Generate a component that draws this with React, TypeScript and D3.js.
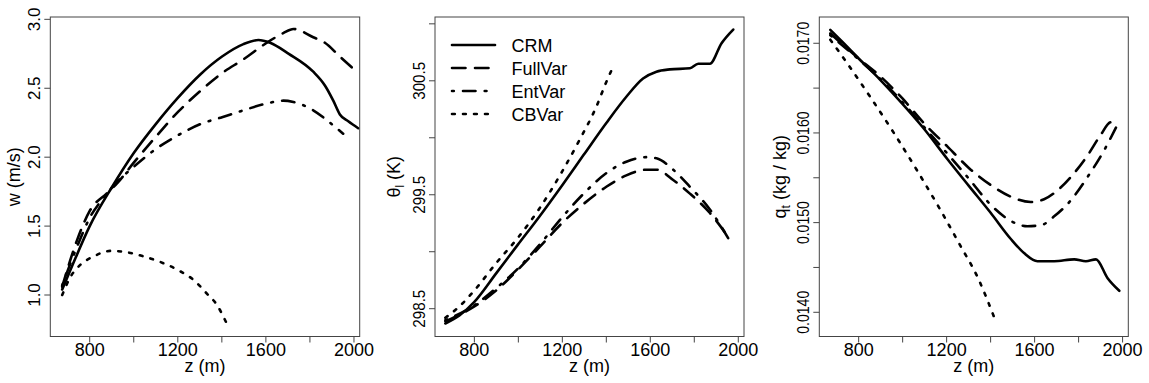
import React from 'react';
import * as d3 from 'd3';

// ---------- data ----------
const xTicks = [800, 1000, 1200, 1400, 1600, 1800, 2000];
const xTickLabels = [800, 1200, 1600, 2000];
const seriesNames = ['CRM', 'FullVar', 'EntVar', 'CBVar'];

// Panel 1: w (m/s)
const wCRM_z = [675, 720, 800, 900, 1000, 1100, 1200, 1302, 1401, 1498, 1566, 1619, 1704, 1815, 1868, 1906, 1936, 1974, 2019];
const wCRM = [1.04, 1.21, 1.50, 1.78, 2.03, 2.24, 2.43, 2.60, 2.73, 2.82, 2.85, 2.83, 2.75, 2.62, 2.52, 2.41, 2.31, 2.26, 2.21];
const wFull_z = [675, 743, 800, 879, 924, 1000, 1101, 1202, 1302, 1401, 1498, 1604, 1679, 1725, 1815, 1868, 1936, 2019];
const wFull = [1.06, 1.40, 1.61, 1.74, 1.81, 1.96, 2.15, 2.33, 2.48, 2.61, 2.71, 2.83, 2.90, 2.93, 2.87, 2.83, 2.73, 2.61];
const wEnt_z = [675, 750, 800, 860, 924, 1000, 1101, 1202, 1302, 1401, 1498, 1604, 1679, 1725, 1815, 1891, 1951];
const wEnt = [1.07, 1.38, 1.56, 1.70, 1.82, 1.93, 2.06, 2.16, 2.24, 2.29, 2.34, 2.39, 2.41, 2.40, 2.34, 2.25, 2.17];
const wCB_z = [675, 712, 758, 818, 894, 969, 1045, 1120, 1202, 1271, 1332, 1377, 1423];
const wCB = [1.00, 1.13, 1.22, 1.28, 1.32, 1.31, 1.28, 1.24, 1.18, 1.11, 1.01, 0.93, 0.79];
const wTicks = [1.0, 1.5, 2.0, 2.5, 3.0];
const wTickLabels = [1.0, 1.5, 2.0, 2.5, 3.0];

// Panel 2: theta_l (K)
const thCRM_z = [668, 732, 800, 899, 997, 1096, 1198, 1297, 1400, 1491, 1567, 1628, 1689, 1780, 1818, 1871, 1924, 1977];
const thCRM = [298.37, 298.44, 298.56, 298.81, 299.06, 299.31, 299.58, 299.85, 300.13, 300.36, 300.52, 300.58, 300.60, 300.61, 300.65, 300.65, 300.83, 300.95];
const thFull_z = [668, 800, 899, 997, 1096, 1198, 1297, 1400, 1491, 1582, 1628, 1704, 1780, 1871, 1954];
const thFull = [298.39, 298.52, 298.66, 298.84, 299.04, 299.25, 299.42, 299.57, 299.67, 299.72, 299.72, 299.63, 299.51, 299.34, 299.13];
const thEnt_z = [668, 800, 899, 997, 1096, 1198, 1297, 1400, 1491, 1582, 1628, 1704, 1780, 1871, 1954];
const thEnt = [298.40, 298.53, 298.68, 298.85, 299.06, 299.30, 299.51, 299.69, 299.79, 299.83, 299.82, 299.72, 299.57, 299.37, 299.12];
const thCB_z = [668, 732, 800, 899, 997, 1096, 1198, 1278, 1354, 1400, 1423];
const thCB = [298.42, 298.52, 298.66, 298.90, 299.12, 299.38, 299.70, 299.98, 300.27, 300.49, 300.59];
const thTicks = [298.5, 299.0, 299.5, 300.0, 300.5, 301.0];
const thTickLabels = [298.5, 299.5, 300.5];

// Panel 3: q_t (kg/kg)
const qCRM_z = [671, 732, 800, 899, 997, 1096, 1203, 1301, 1400, 1491, 1552, 1613, 1689, 1780, 1833, 1879, 1932, 1985];
const qCRM = [0.01715, 0.01700, 0.01683, 0.01659, 0.01633, 0.01605, 0.01571, 0.01541, 0.01511, 0.01482, 0.01466, 0.01457, 0.01457, 0.01459, 0.01457, 0.01459, 0.01438, 0.01424];
const qFull_z = [671, 800, 899, 997, 1096, 1203, 1301, 1400, 1491, 1582, 1643, 1704, 1765, 1841, 1901, 1947, 1970];
const qFull = [0.01711, 0.01683, 0.01663, 0.01639, 0.01611, 0.01585, 0.01561, 0.01542, 0.01529, 0.01523, 0.01526, 0.01536, 0.01551, 0.01575, 0.01598, 0.01612, 0.01610];
const qEnt_z = [671, 800, 899, 997, 1096, 1203, 1301, 1400, 1491, 1567, 1628, 1689, 1765, 1841, 1917, 1974];
const qEnt = [0.01709, 0.01682, 0.01660, 0.01635, 0.01607, 0.01577, 0.01549, 0.01520, 0.01502, 0.01496, 0.01497, 0.01507, 0.01525, 0.01551, 0.01581, 0.01608];
const qCB_z = [671, 747, 853, 960, 1066, 1172, 1263, 1339, 1423];
const qCB = [0.01704, 0.01678, 0.01640, 0.01600, 0.01558, 0.01514, 0.01474, 0.01440, 0.01390];
const qTicks = [0.0140, 0.0145, 0.0150, 0.0155, 0.0160, 0.0165, 0.0170];
const qTickLabels = [0.0140, 0.0150, 0.0160, 0.0170];

// ---------- styles ----------
const W = 1149;
const H = 383;
const FONT = '"Liberation Sans", Arial, Helvetica, sans-serif';
const dashFor: Record<string, string | undefined> = {
  CRM: undefined,
  FullVar: '13.5 9.5',
  EntVar: '1.8 9.2 12.5 9.2',
  CBVar: '2.8 8.2',
};
const LW = 2.6;
const TOP = 17;
const BOTTOM = 336.5;
const XDOMAIN: [number, number] = [621, 2026];

type Panel = {
  left: number;
  right: number;
  yDomain: [number, number];
  series: { name: string; z: number[]; v: number[] }[];
  yTicks: number[];
  yTickLabels: number[];
  fmt: (v: number) => string;
  yLabelLen?: number;
  titleOffset: number;
  title: React.ReactNode;
  legend?: boolean;
};

const panels: Panel[] = [
  {
    left: 50.3, right: 359.7, yDomain: [0.699, 3.017],
    series: [
      { name: 'CRM', z: wCRM_z, v: wCRM },
      { name: 'FullVar', z: wFull_z, v: wFull },
      { name: 'EntVar', z: wEnt_z, v: wEnt },
      { name: 'CBVar', z: wCB_z, v: wCB },
    ],
    yTicks: wTicks, yTickLabels: wTickLabels, fmt: (v) => v.toFixed(1),
    titleOffset: 30,
    title: <tspan>w (m/s)</tspan>,
  },
  {
    left: 435, right: 744, yDomain: [298.256, 301.06],
    series: [
      { name: 'CRM', z: thCRM_z, v: thCRM },
      { name: 'FullVar', z: thFull_z, v: thFull },
      { name: 'EntVar', z: thEnt_z, v: thEnt },
      { name: 'CBVar', z: thCB_z, v: thCB },
    ],
    yTicks: thTicks, yTickLabels: thTickLabels, fmt: (v) => v.toFixed(1),
    yLabelLen: 38,
    titleOffset: 35,
    title: (<>
      <tspan>θ</tspan><tspan fontSize={12} dy={4}>l</tspan><tspan dy={-4}> (K)</tspan>
    </>),
    legend: true,
  },
  {
    left: 819.3, right: 1128.3, yDomain: [0.01373, 0.017293],
    series: [
      { name: 'CRM', z: qCRM_z, v: qCRM },
      { name: 'FullVar', z: qFull_z, v: qFull },
      { name: 'EntVar', z: qEnt_z, v: qEnt },
      { name: 'CBVar', z: qCB_z, v: qCB },
    ],
    yTicks: qTicks, yTickLabels: qTickLabels, fmt: (v) => v.toFixed(4),
    yLabelLen: 43,
    titleOffset: 33,
    title: (<>
      <tspan>q</tspan><tspan fontSize={12} dy={4}>t</tspan><tspan dy={-4}> (kg / kg)</tspan>
    </>),
  },
];

function PanelView({ p }: { p: Panel }) {
  const x = d3.scaleLinear().domain(XDOMAIN).range([p.left, p.right]);
  const y = d3.scaleLinear().domain(p.yDomain).range([BOTTOM, TOP]);
  const line = d3.line<[number, number]>()
    .x((d) => x(d[0]))
    .y((d) => y(d[1]))
    .curve(d3.curveMonotoneX);
  const axisColor = '#444';
  const midY = (TOP + BOTTOM) / 2;
  const midX = (p.left + p.right) / 2;
  return (
    <g>
      {p.series.map((s) => (
        <path key={s.name}
          d={line(s.z.map((zz, i) => [zz, s.v[i]] as [number, number])) || ''}
          fill="none" stroke="#000" strokeWidth={LW}
          strokeDasharray={dashFor[s.name]}
          strokeLinecap="round" strokeLinejoin="round" />
      ))}
      <rect x={p.left} y={TOP} width={p.right - p.left} height={BOTTOM - TOP}
        fill="none" stroke={axisColor} strokeWidth={1} />
      {xTicks.map((t) => (
        <line key={'xt' + t} x1={x(t)} x2={x(t)} y1={BOTTOM} y2={BOTTOM + 6}
          stroke={axisColor} strokeWidth={1} />
      ))}
      {xTickLabels.map((t) => (
        <text key={'xl' + t} x={x(t)} y={BOTTOM + 19.5} textAnchor="middle"
          fontSize={18} fontFamily={FONT} fill="#000">{t}</text>
      ))}
      <text x={midX} y={372} textAnchor="middle" fontSize={18} fontFamily={FONT} fill="#000">z (m)</text>
      {p.yTicks.map((t) => (
        <line key={'yt' + t} x1={p.left - 6} x2={p.left} y1={y(t)} y2={y(t)}
          stroke={axisColor} strokeWidth={1} />
      ))}
      {p.yTickLabels.map((t) => (
        <text key={'yl' + t} transform={`translate(${p.left - 10},${y(t)}) rotate(-90)`}
          textAnchor="middle" fontSize={17} fontFamily={FONT} fill="#000"
          {...(p.yLabelLen ? { textLength: p.yLabelLen, lengthAdjust: 'spacingAndGlyphs' } : {})}>
          {p.fmt(t)}
        </text>
      ))}
      <text transform={`translate(${p.left - p.titleOffset},${midY}) rotate(-90)`}
        textAnchor="middle" fontSize={18} fontFamily={FONT} fill="#000">{p.title}</text>
      {p.legend && seriesNames.map((n, i) => {
        const ly = 45 + i * 23;
        return (
          <g key={'lg' + n}>
            <line x1={452} x2={495} y1={ly} y2={ly} stroke="#000" strokeWidth={LW}
              strokeDasharray={dashFor[n]} strokeLinecap="round" />
            <text x={511.5} y={ly + 6.5} fontSize={18} fontFamily={FONT} fill="#000">{n}</text>
          </g>
        );
      })}
    </g>
  );
}

export default function App() {
  return (
    <svg width={W} height={H} viewBox={`0 0 ${W} ${H}`}
      style={{ position: 'absolute', left: 0, top: 0, background: '#fff' }}>
      <rect x={0} y={0} width={W} height={H} fill="#fff" />
      {panels.map((p, i) => <PanelView key={i} p={p} />)}
    </svg>
  );
}
